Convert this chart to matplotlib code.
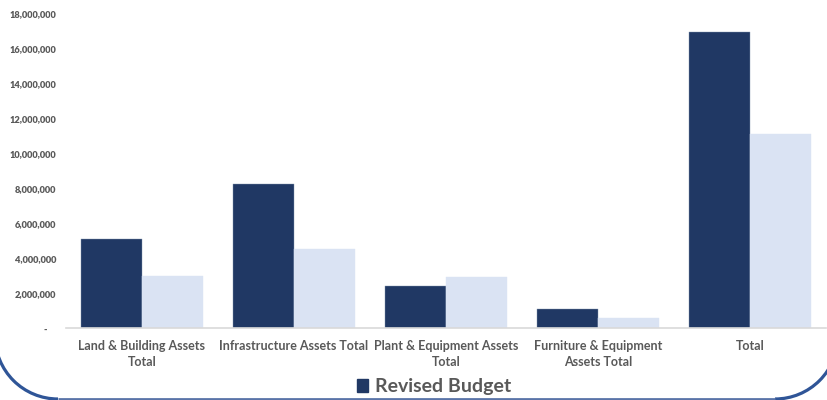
import matplotlib
matplotlib.use("Agg")
import matplotlib.pyplot as plt
from matplotlib.patches import Arc, Patch
from matplotlib.ticker import FuncFormatter
import numpy as np

categories = ["Land & Building Assets\nTotal", "Infrastructure Assets Total",
              "Plant & Equipment Assets\nTotal", "Furniture & Equipment\nAssets Total",
              "Total"]
revised_budget = [5100000, 8260000, 2410000, 1090000, 16970000]
actual = [2980000, 4530000, 2920000, 570000, 11120000]

plt.rcParams['font.family'] = ['Lato', 'DejaVu Sans']
grey = '#595959'
frame_col = '#2F5597'

fig = plt.figure(figsize=(8.27, 4.0), dpi=100)

# rounded slide frame (bottom corners only), drawn in a pixel-sized overlay axes
bg = fig.add_axes([0, 0, 1, 1], zorder=-1)
bg.set_xlim(0, 827)
bg.set_ylim(0, 400)
bg.axis('off')
r = 63
yb = 1.0
bg.add_patch(Arc((58, yb + r), 2*r, 2*r, theta1=180, theta2=270,
                 color=frame_col, linewidth=2.3))
bg.add_patch(Arc((775, yb + r), 2*r, 2*r, theta1=270, theta2=360,
                 color=frame_col, linewidth=2.3))
bg.plot([58, 775], [yb, yb], color='#5A74A8', linewidth=2.0, solid_capstyle='butt')

ax = fig.add_axes([66/827, 72/400, 760/827, 314/400])

x = np.arange(len(categories))
w = 0.4
ax.bar(x - w/2, revised_budget, w, color='#203864', edgecolor='#8497B0', linewidth=0.3)
ax.bar(x + w/2, actual, w, color='#DAE3F3', edgecolor='#DAE3F3', linewidth=0.3)

ax.set_xlim(-0.5, len(categories) - 0.5)
ax.set_ylim(0, 18000000)
ax.set_yticks(np.arange(0, 18000001, 2000000))

def fmt(v, pos):
    if v == 0:
        return '-    '
    return '{:,.0f}'.format(v)
ax.yaxis.set_major_formatter(FuncFormatter(fmt))

ax.set_xticks(x)
ax.set_xticklabels(categories, fontsize=9, fontweight='bold', color=grey, linespacing=1.3)
for t in ax.get_yticklabels():
    t.set_fontsize(6.7)
    t.set_fontweight('heavy')
    t.set_color(grey)

ax.tick_params(axis='both', length=0)
ax.tick_params(axis='x', pad=9)
ax.tick_params(axis='y', pad=7)
for s in ['top', 'right', 'left']:
    ax.spines[s].set_visible(False)
ax.spines['bottom'].set_color('#D9D9D9')
ax.spines['bottom'].set_linewidth(1.2)
ax.patch.set_alpha(0)

# legend (only the first series is visible in the reference)
leg = fig.legend(handles=[Patch(color='#203864', label='Revised Budget')],
                 loc='center', bbox_to_anchor=(0.525, 0.033), frameon=False,
                 handlelength=0.6, handleheight=0.6, handletextpad=0.35,
                 prop={'size': 14, 'weight': 'bold'})
for t in leg.get_texts():
    t.set_color(grey)

fig.savefig("out.png", dpi=100)
